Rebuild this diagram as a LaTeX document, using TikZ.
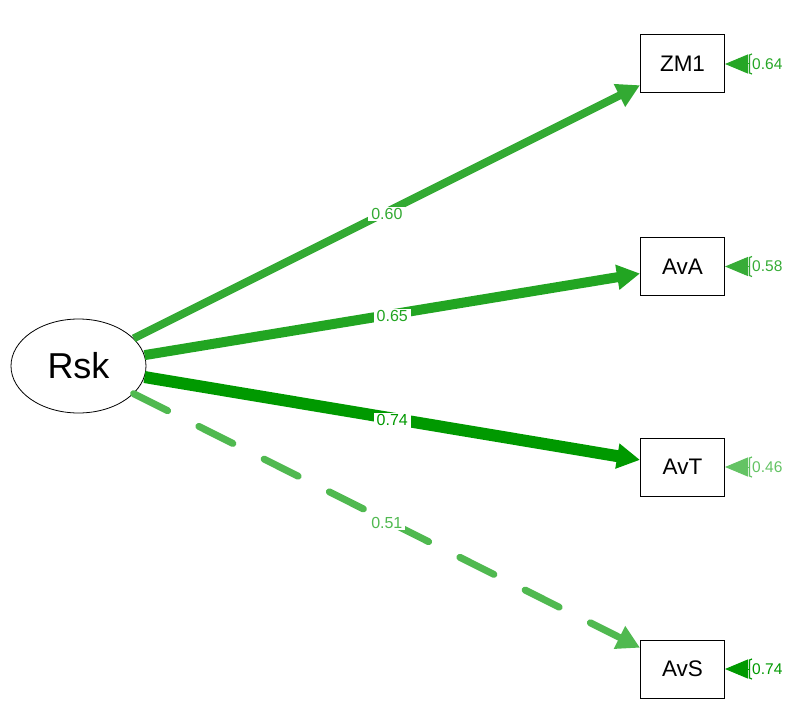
\documentclass[tikz,border=0pt]{standalone}
\usepackage{fontspec}
\setmainfont{Liberation Sans}
\usetikzlibrary{arrows.meta,shapes.geometric}
\definecolor{c74}{RGB}{0,153,0}
\definecolor{c65}{RGB}{34,165,34}
\definecolor{c64}{RGB}{38,166,38}
\definecolor{c60}{RGB}{51,170,51}
\definecolor{c58}{RGB}{55,172,55}
\definecolor{c51}{RGB}{80,185,80}
\definecolor{c46}{RGB}{100,195,100}
\begin{document}
\begin{tikzpicture}[x=1bp,y=-1bp,
  manifest/.style={draw, line width=1bp, minimum width=84bp, minimum height=58bp, inner sep=0pt, font=\fontsize{22.5bp}{25bp}\selectfont},
  latent/.style={ellipse, draw, line width=0.8bp, minimum width=135bp, minimum height=94bp, inner sep=0pt, font=\fontsize{36bp}{40bp}\selectfont},
  load/.style={-{Triangle[length=23bp,width=24bp]}},
  elab/.style={fill=white, inner xsep=3bp, inner ysep=1.5bp, yshift=-2bp, font=\fontsize{16bp}{18bp}\selectfont},
  resid/.style={-{Triangle[length=23bp,width=19bp]}, line width=1bp},
  rlab/.style={anchor=west, inner sep=0pt, font=\fontsize{15.5bp}{17bp}\selectfont},
  loopline/.style={line width=1.2bp}
]
\useasboundingbox (0,0) rectangle (809,720);

\node[latent] (Rsk) at (78.5,366) {Rsk};
\node[manifest] (ZM1) at (682.5,64) {ZM1};
\node[manifest] (AvA) at (682.5,266.5) {AvA};
\node[manifest] (AvT) at (682.5,467) {AvT};
\node[manifest] (AvS) at (682.5,669) {AvS};

\draw[load, c60, line width=8bp] (Rsk) -- node[elab, text=c60] (l60) {0.60} (ZM1);
\draw[load, c65, line width=10bp] (Rsk) -- node[elab, text=c65] (l65) {0.65} (AvA);
\draw[load, c74, line width=12bp] (Rsk) -- node[elab, text=c74] (l74) {0.74} (AvT);
\draw[load, c51, line width=7bp, line cap=round, dash pattern=on 38bp off 35bp] (Rsk) -- node[elab, text=c51] (l51) {0.51} (AvS);

\foreach \b/\c/\v in {ZM1/c64/0.64, AvA/c58/0.58, AvT/c46/0.46, AvS/c74/0.74}{
  \coordinate (r\b) at ([xshift=25bp]\b.east);
  \draw[resid, \c] (r\b) -- (\b.east);
  \draw[loopline, \c] ([xshift=27bp,yshift=-10bp]\b.east) -- ([xshift=24.5bp,yshift=-9bp]\b.east) -- ([xshift=24.5bp,yshift=9bp]\b.east) -- ([xshift=27bp,yshift=10bp]\b.east);
  \node[rlab, text=\c] (rl\b) at ([xshift=27bp]\b.east) {\v};
}
\end{tikzpicture}
\end{document}
